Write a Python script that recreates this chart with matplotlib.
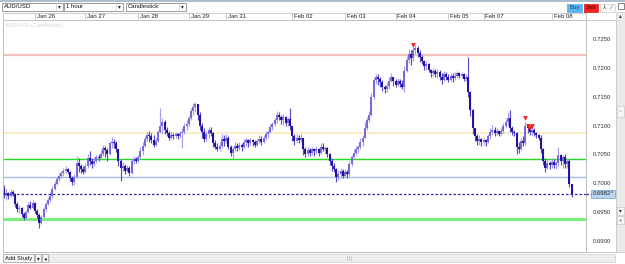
import matplotlib
matplotlib.use('Agg')
import matplotlib.pyplot as plt
from matplotlib.patches import Rectangle

plt.rcParams['font.family'] = ['Liberation Sans', 'DejaVu Sans']

# hourly AUD/USD candles, prices in pips (0.0001)
close_pips = [
    6980, 6984, 6978, 6985, 6982, 6965, 6955, 6958, 6947, 6940,
    6950, 6962, 6958, 6966, 6952, 6945, 6932, 6942, 6955, 6965,
    6972, 6978, 6990, 7000, 7008, 7014, 7018, 7022, 7026, 7020,
    7010, 7002, 7012, 7035, 7030, 7025, 7020, 7030, 7044, 7040,
    7034, 7040, 7046, 7044, 7052, 7062, 7058, 7052, 7070, 7072,
    7070, 7060, 7040, 7028, 7030, 7022, 7028, 7018, 7040, 7042,
    7040, 7046, 7056, 7066, 7078, 7085, 7082, 7076, 7068, 7074,
    7090, 7100, 7108, 7094, 7088, 7080, 7084, 7082, 7086, 7082,
    7088, 7090, 7100, 7104, 7114, 7126, 7134, 7138, 7120, 7100,
    7090, 7078, 7086, 7094, 7088, 7070, 7064, 7060, 7066, 7078,
    7074, 7080, 7064, 7054, 7060, 7066, 7062, 7068, 7064, 7072,
    7076, 7070, 7076, 7072, 7068, 7074, 7078, 7072, 7080, 7086,
    7090, 7098, 7104, 7110, 7120, 7116, 7110, 7116, 7106, 7112,
    7100, 7082, 7074, 7080, 7076, 7080, 7060, 7052, 7058, 7054,
    7060, 7056, 7060, 7054, 7064, 7060, 7062, 7052, 7040, 7030,
    7026, 7012, 7016, 7022, 7014, 7020, 7016, 7034, 7046, 7054,
    7060, 7064, 7072, 7080, 7096, 7110, 7120, 7150, 7180, 7186,
    7182, 7176, 7168, 7164, 7170, 7178, 7186, 7178, 7172, 7178,
    7174, 7168, 7196, 7216, 7226, 7218, 7232, 7236, 7228, 7220,
    7214, 7204, 7208, 7198, 7192, 7196, 7190, 7194, 7186, 7180,
    7190, 7186, 7180, 7188, 7184, 7188, 7192, 7188, 7190, 7182,
    7186, 7160, 7128, 7096, 7082, 7074, 7078, 7072, 7076, 7072,
    7082, 7090, 7094, 7088, 7092, 7086, 7092, 7100, 7108, 7114,
    7096, 7090, 7088, 7064, 7060, 7074, 7070, 7100, 7096, 7090,
    7094, 7088, 7084, 7080, 7060, 7040, 7028, 7036, 7032, 7038,
    7032, 7036, 7050, 7040, 7046, 7034, 7040, 7000, 6982,
]
high_pips = [
    6998, 6990, 6986, 6990, 6988, 6984, 6968, 6962, 6960, 6950,
    6954, 6968, 6970, 6972, 6968, 6956, 6948, 6946, 6960, 6968,
    6976, 6985, 6995, 7004, 7012, 7018, 7022, 7028, 7030, 7028,
    7022, 7014, 7016, 7048, 7045, 7034, 7030, 7036, 7052, 7056,
    7044, 7046, 7050, 7052, 7058, 7068, 7066, 7062, 7074, 7081,
    7078, 7074, 7060, 7042, 7038, 7034, 7032, 7030, 7044, 7048,
    7046, 7050, 7064, 7072, 7082, 7090, 7092, 7088, 7084, 7080,
    7094, 7132, 7114, 7110, 7098, 7092, 7090, 7088, 7090, 7088,
    7092, 7096, 7106, 7110, 7118, 7132, 7140, 7142, 7134, 7124,
    7106, 7096, 7092, 7098, 7098, 7090, 7076, 7070, 7072, 7086,
    7084, 7086, 7082, 7068, 7064, 7072, 7070, 7072, 7070, 7078,
    7080, 7078, 7080, 7078, 7076, 7078, 7084, 7082, 7084, 7092,
    7094, 7104, 7108, 7114, 7126, 7124, 7120, 7122, 7118, 7116,
    7132, 7100, 7086, 7086, 7084, 7086, 7080, 7064, 7064, 7062,
    7064, 7062, 7066, 7062, 7070, 7070, 7066, 7064, 7054, 7044,
    7036, 7028, 7024, 7028, 7026, 7026, 7024, 7040, 7050, 7060,
    7066, 7068, 7080, 7084, 7108, 7116, 7126, 7158, 7186, 7190,
    7190, 7186, 7180, 7172, 7176, 7186, 7192, 7186, 7182, 7184,
    7182, 7180, 7204, 7222, 7234, 7232, 7238, 7242, 7240, 7232,
    7224, 7216, 7214, 7210, 7200, 7202, 7200, 7200, 7198, 7192,
    7196, 7194, 7190, 7192, 7192, 7194, 7196, 7194, 7194, 7192,
    7190, 7220, 7162, 7130, 7096, 7086, 7084, 7080, 7080, 7078,
    7086, 7096, 7102, 7098, 7096, 7094, 7096, 7106, 7112, 7124,
    7128, 7100, 7094, 7090, 7072, 7080, 7082, 7108, 7102, 7098,
    7098, 7096, 7090, 7086, 7084, 7062, 7044, 7042, 7040, 7044,
    7042, 7040, 7064, 7052, 7050, 7052, 7044, 7042, 6996,
]
low_pips = [
    6975, 6972, 6974, 6976, 6978, 6960, 6950, 6948, 6942, 6936,
    6938, 6948, 6955, 6955, 6948, 6940, 6922, 6930, 6940, 6952,
    6962, 6968, 6975, 6988, 6998, 7004, 7010, 7014, 7018, 7016,
    7005, 6997, 6998, 7010, 7020, 7018, 7016, 7018, 7028, 7032,
    7028, 7030, 7036, 7040, 7042, 7048, 7046, 7040, 7050, 7062,
    7062, 7055, 7030, 7005, 7022, 7016, 7020, 7014, 7016, 7034,
    7036, 7038, 7044, 7050, 7064, 7074, 7072, 7070, 7064, 7066,
    7072, 7088, 7086, 7086, 7082, 7076, 7078, 7078, 7080, 7078,
    7080, 7062, 7086, 7094, 7100, 7110, 7120, 7124, 7110, 7094,
    7080, 7072, 7074, 7080, 7082, 7064, 7060, 7056, 7056, 7062,
    7066, 7070, 7060, 7048, 7044, 7056, 7056, 7058, 7056, 7062,
    7066, 7064, 7068, 7066, 7064, 7066, 7070, 7068, 7070, 7076,
    7080, 7088, 7094, 7100, 7106, 7110, 7104, 7102, 7100, 7100,
    7094, 7074, 7068, 7070, 7070, 7072, 7050, 7046, 7048, 7048,
    7050, 7048, 7052, 7048, 7052, 7056, 7052, 7046, 7032, 7022,
    7020, 7002, 7006, 7010, 7010, 7012, 7010, 7014, 7030, 7044,
    7050, 7054, 7060, 7066, 7080, 7094, 7108, 7118, 7148, 7174,
    7172, 7168, 7162, 7158, 7160, 7164, 7176, 7170, 7168, 7170,
    7168, 7164, 7160, 7194, 7210, 7206, 7214, 7226, 7220, 7212,
    7208, 7198, 7198, 7194, 7186, 7188, 7186, 7184, 7180, 7174,
    7178, 7180, 7176, 7178, 7176, 7180, 7184, 7184, 7184, 7178,
    7178, 7150, 7118, 7086, 7074, 7068, 7068, 7066, 7068, 7066,
    7070, 7078, 7084, 7082, 7084, 7082, 7084, 7088, 7096, 7100,
    7090, 7084, 7082, 7052, 7054, 7058, 7066, 7068, 7088, 7084,
    7084, 7082, 7080, 7076, 7054, 7032, 7020, 7026, 7026, 7028,
    7028, 7026, 7030, 7032, 7028, 7028, 7028, 6994, 6976,
]
first_open_pips = 6990

date_labels = ['Jan 26', 'Jan 27', 'Jan 28', 'Jan 29', 'Jan 31', 'Feb 02',
               'Feb 03', 'Feb 04', 'Feb 05', 'Feb 07', 'Feb 08']
date_start_idx = [14, 37, 61, 84, 101, 131, 155, 178, 202, 218, 249]

price_ticks = [0.6900, 0.6950, 0.7000, 0.7050, 0.7100, 0.7150, 0.7200, 0.7250]
last_price = 0.69824

level_prices = [0.7224, 0.7088, 0.7043, 0.7011, 0.6938]
level_colors = ['#f2c2c2', '#fde6bc', '#22dd22', '#a9bce8', '#70f070']
level_widths = [1.6, 1.2, 1.0, 1.0, 2.0]

signal_idx = [186, 237, 238, 239, 240]
signal_prices = [0.7241, 0.7114, 0.7101, 0.7097, 0.7101]

W, H = 625, 264
Y_LO, Y_HI = 0.68809, 0.72848
X_LO, X_HI = -0.45, 264.5


def fr(x, y, w, h):
    # pixel box (top-left origin) -> figure fraction
    return [x / W, (H - y - h) / H, w / W, h / H]


fig = plt.figure(figsize=(6.25, 2.64), dpi=100)

# ---------- ui chrome in pixel coordinates ----------
ui = fig.add_axes([0, 0, 1, 1], zorder=-1)
ui.set_xlim(0, W)
ui.set_ylim(H, 0)
ui.axis('off')


def box(x, y, w, h, fc, ec='#a8a8a8', lw=0.6):
    ui.add_patch(Rectangle((x, y), w, h, facecolor=fc, edgecolor=ec, linewidth=lw))


ui.plot([0, W], [0.6, 0.6], color='#9fb0c4', lw=1.2)
for bx, bw, label in [(2, 61, 'AUD/USD'), (64, 59, '1 hour'), (126, 60, 'Candlestick')]:
    box(bx, 3, bw, 7.5, 'white', ec='#8c8c8c')
    ui.plot([bx + bw - 7, bx + bw - 7], [3, 10.5], color='#c8c8c8', lw=0.5)
    ui.text(bx + 2, 6.9, label, fontsize=4.3, va='center', color='#111')
    ui.text(bx + bw - 3.5, 6.9, '\u25be', fontsize=4, va='center', ha='center', color='#222',
            family=['DejaVu Sans'])
box(567, 4, 15, 7.5, '#5bb6ec', ec='#5bb6ec')
ui.text(574.5, 7.8, 'Buy', fontsize=4.3, ha='center', va='center', color='#1b3c86')
box(584, 4, 14, 7.5, '#f02424', ec='#f02424')
ui.text(591, 7.8, 'Sell', fontsize=4.3, ha='center', va='center', color='#4a0000')
box(600, 4, 15, 7.5, '#f8f8f8', ec='#d8d8d8')
ui.text(604, 7.8, '\u2144', fontsize=4, ha='center', va='center', color='#444', family=['DejaVu Sans'])
ui.text(610, 7.8, '\u2044', fontsize=4, ha='center', va='center', color='#444', family=['DejaVu Sans'])
box(618, 3, 6, 6, 'white', ec='#555', lw=0.5)

# right price panel + scroll column
box(586, 20, 29.5, 232, 'white', ec='#c0c0c0', lw=0.6)
box(616, 12, 9, 240, '#eaeaea', ec='#c8c8c8', lw=0.5)
ui.text(620.5, 16, '\u25b4', fontsize=4, ha='center', va='center', color='#333', family=['DejaVu Sans'])
box(617, 106, 7, 11, '#f6f6f6', ec='#c0c0c0', lw=0.4)
ui.text(620.5, 111.5, '=', fontsize=3.5, ha='center', va='center', color='#999')
box(617, 207, 7, 8, '#f6f6f6', ec='#c0c0c0', lw=0.4)
ui.text(620.5, 211, '\u25be', fontsize=4, ha='center', va='center', color='#333', family=['DejaVu Sans'])
box(617, 216, 7, 8, '#f6f6f6', ec='#c0c0c0', lw=0.4)
ui.text(620.5, 220, '+', fontsize=4.3, ha='center', va='center', color='#333')

# bottom bar
box(49, 254, 566, 8, '#eeeeee', ec='#cfcfcf', lw=0.5)
box(3, 254, 31, 8, '#f8f8f8')
ui.text(5, 258.2, 'Add Study', fontsize=4.2, va='center', color='#111')
box(35, 254, 6, 8, '#f8f8f8')
ui.text(38, 258.2, '\u25be', fontsize=4, ha='center', va='center', color='#222', family=['DejaVu Sans'])
box(42, 254, 6, 8, '#f8f8f8')
ui.text(45, 258.2, '\u25c2', fontsize=4, ha='center', va='center', color='#222', family=['DejaVu Sans'])
for gx in (347, 349, 351):
    ui.plot([gx, gx], [256, 260], color='#aaaaaa', lw=0.4)

# ---------- main chart ----------
ax = fig.add_axes(fr(3, 20, 583, 232))
ax.set_xlim(X_LO, X_HI)
ax.set_ylim(Y_LO, Y_HI)
ax.set_xticks([])
ax.set_yticks([])
for side in ['left', 'right', 'bottom', 'top']:
    ax.spines[side].set_color('#bdbdbd')
    ax.spines[side].set_linewidth(0.7)

ax.text(0.004, 0.985, 'AUD/USD (Candlestick)', transform=ax.transAxes, fontsize=4,
        va='top', color='#d4d4dc')

for p, c, w in zip(level_prices, level_colors, level_widths):
    ax.axhline(p, color=c, lw=w, zorder=1)
ax.axhline(last_price, color='#2a2aa0', lw=0.9, ls=(0, (2, 1.6)), zorder=3)

opens = [first_open_pips] + close_pips[:-1]
up_x, up_lo, up_hi, up_o, up_c = [], [], [], [], []
dn_x, dn_lo, dn_hi, dn_o, dn_c = [], [], [], [], []
for i, (o, c, h, l) in enumerate(zip(opens, close_pips, high_pips, low_pips)):
    lo = min(l, o, c) / 1e4
    hi = max(h, o, c) / 1e4
    if c >= o:
        up_x.append(i); up_lo.append(lo); up_hi.append(hi); up_o.append(o / 1e4); up_c.append(c / 1e4)
    else:
        dn_x.append(i); dn_lo.append(lo); dn_hi.append(hi); dn_o.append(o / 1e4); dn_c.append(c / 1e4)

ax.vlines(up_x, up_lo, up_hi, colors='#a79eea', lw=0.85, zorder=2)
ax.vlines(up_x, up_o, up_c, colors='#7668d8', lw=1.4, zorder=2)
ax.vlines(dn_x, dn_lo, dn_hi, colors='#5a4ec8', lw=0.85, zorder=2)
ax.vlines(dn_x, dn_o, dn_c, colors='#1e0f9c', lw=1.4, zorder=2)

ax.scatter(signal_idx, signal_prices, marker='v', s=12, color='#ee2222', zorder=4, linewidths=0)

# ---------- date strip ----------
dax = fig.add_axes(fr(3, 13, 583, 7), sharex=ax)
dax.set_ylim(0, 1)
dax.set_yticks([])
dax.tick_params(axis='x', bottom=False, labelbottom=False)
for side in ['left', 'right', 'bottom', 'top']:
    dax.spines[side].set_color('#c4c4c4')
    dax.spines[side].set_linewidth(0.6)
for pos, lab in zip(date_start_idx, date_labels):
    dax.axvline(pos, color='#b8b8b8', lw=0.5)
    dax.text(pos + 0.8, 0.45, lab, fontsize=4.3, va='center', color='#222')

# ---------- price panel ----------
pax = fig.add_axes(fr(586, 20, 29.5, 232))
pax.set_xlim(0, 1)
pax.set_ylim(Y_LO, Y_HI)
pax.axis('off')
for t in price_ticks:
    pax.text(0.24, t, f'{t:.4f}', fontsize=4.3, va='center', color='#333')
pax.add_patch(Rectangle((0.16, last_price - 0.0007), 0.82, 0.0014,
                        facecolor='#bcd6ef', edgecolor='#6f9fd0', linewidth=0.5))
pax.plot([0, 0.16], [last_price, last_price], color='#2a2aa0', lw=0.9, ls=(0, (2, 1.6)))
pax.text(0.24, last_price, '0.6982\u2074', fontsize=4.3, va='center', color='#222')

fig.savefig('out.png', dpi=100)
